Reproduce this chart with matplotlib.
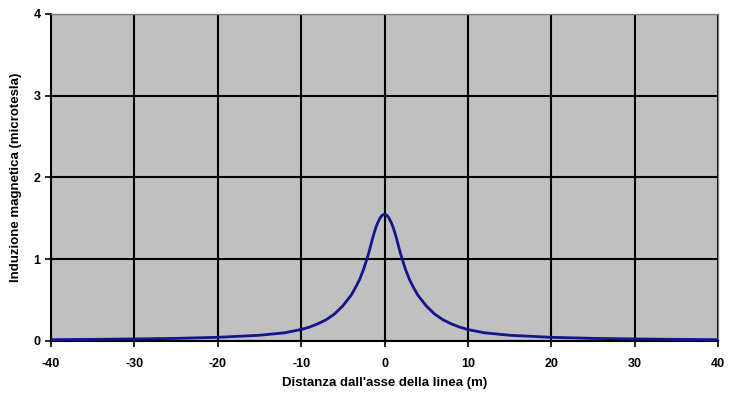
import matplotlib
matplotlib.use("Agg")
import matplotlib.pyplot as plt

x_right = [0, 0.25, 0.5, 0.75, 1, 1.25, 1.5, 1.75, 2, 2.5, 3, 3.5, 4, 5, 6, 7, 8, 9, 10,
           12, 15, 20, 25, 30, 35, 40]
b_right = [1.55, 1.54, 1.51, 1.46, 1.40, 1.32, 1.23, 1.13, 1.04, 0.88, 0.75, 0.65, 0.56,
           0.43, 0.33, 0.26, 0.21, 0.17, 0.14, 0.10, 0.07, 0.045, 0.032, 0.025, 0.02, 0.016]
distance = [-v for v in x_right[::-1]] + x_right[1:]
induction = b_right[::-1] + b_right[1:]

xticks = [-40, -30, -20, -10, 0, 10, 20, 30, 40]
yticks = [0, 1, 2, 3, 4]

plt.rcParams['font.family'] = ['Liberation Sans', 'DejaVu Sans']
plt.rcParams['axes.unicode_minus'] = False
fig = plt.figure(figsize=(7.3, 3.99), dpi=100)
ax = fig.add_axes([0.0699, 0.1454, 0.9137, 0.8196])
ax.set_facecolor('#c0c0c0')
ax.plot(distance, induction, color='#14148c', lw=2.0, zorder=3, solid_joinstyle='round')
ax.set_xlim(-40, 40)
ax.set_ylim(0, 4)
ax.set_xticks(xticks)
ax.set_yticks(yticks)
ax.grid(True, color='black', lw=1.5, zorder=1)
ax.set_axisbelow(True)
for s in ['top', 'right']:
    ax.spines[s].set_color('#808080')
    ax.spines[s].set_linewidth(1.0)
for s in ['left', 'bottom']:
    ax.spines[s].set_color('black')
    ax.spines[s].set_linewidth(1.5)
ax.tick_params(axis='both', direction='out', length=4, width=1.2, labelsize=9, colors='black')
ax.tick_params(axis='x', pad=8)
for lab in ax.get_xticklabels() + ax.get_yticklabels():
    lab.set_fontweight('bold')
ax.set_xlabel("Distanza dall'asse della linea (m)", fontsize=9.5, fontweight='bold', labelpad=5)
ax.set_ylabel("Induzione magnetica (microtesla)", fontsize=9.5, fontweight='bold', labelpad=8)
fig.savefig('out.png', dpi=100, facecolor='white')
